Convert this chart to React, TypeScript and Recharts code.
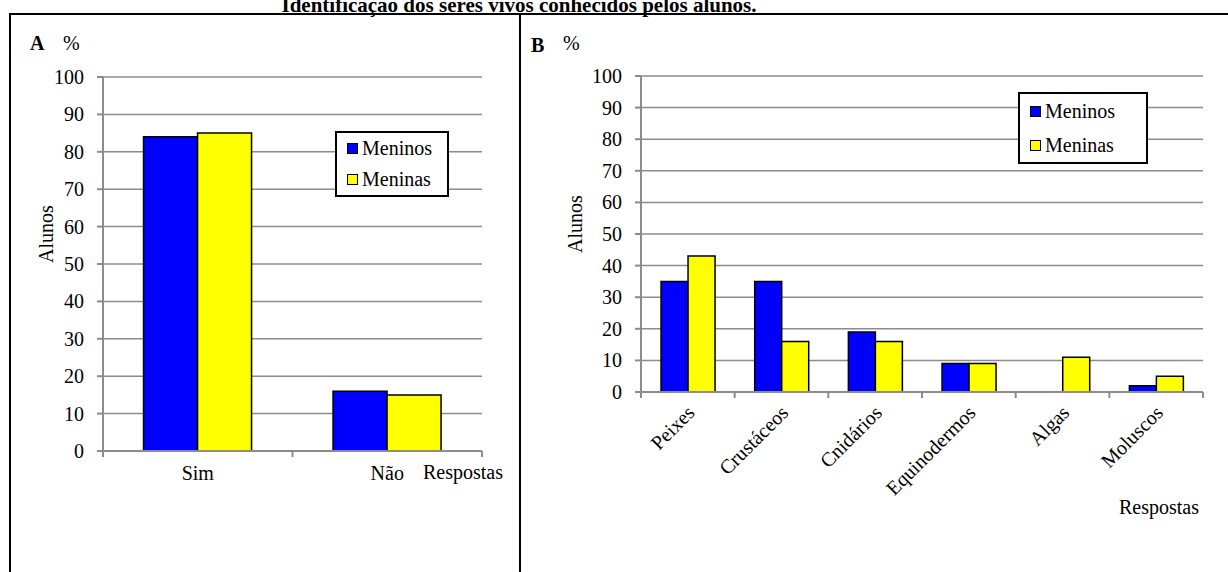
import { BarChart, Bar, XAxis, YAxis, CartesianGrid, Legend } from 'recharts';

const FONT = '"Liberation Serif", "Times New Roman", Times, serif';
const BLUE = '#0000ff';
const YELLOW = '#ffff00';
const GREY = '#8c8c8c';

const series = ['Meninos', 'Meninas'];
const seriesColors: Record<string, string> = { Meninos: BLUE, Meninas: YELLOW };
const yTicks = [0, 10, 20, 30, 40, 50, 60, 70, 80, 90, 100];

// A: conhece seres vivos marinhos?
const respostasA = ['Sim', 'Não'];
const meninosA = [84, 16];
const meninasA = [85, 15];

// B: grupos citados
const gruposB = ['Peixes', 'Crustáceos', 'Cnidários', 'Equinodermos', 'Algas', 'Moluscos'];
const meninosB = [35, 35, 19, 9, 0, 2];
const meninasB = [43, 16, 16, 9, 11, 5];

const dataA = respostasA.map((name, i) => ({ name, Meninos: meninosA[i], Meninas: meninasA[i] }));
const dataB = gruposB.map((name, i) => ({ name, Meninos: meninosB[i], Meninas: meninasB[i] }));

// category ticks: label at the centre, tick marks on the band edges (Excel style)
function CategoryTick(props: any) {
  const { x, y, payload, index, band, count, rotate } = props;
  const half = band / 2;
  const tx = x + 8;
  const ty = y + 22;
  return (
    <g>
      <line x1={x - half} y1={y} x2={x - half} y2={y + 6} stroke={GREY} strokeWidth={2} />
      {index === count - 1 && (
        <line x1={x + half} y1={y} x2={x + half} y2={y + 6} stroke={GREY} strokeWidth={2} />
      )}
      {rotate ? (
        <text x={tx} y={ty} transform={`rotate(-45 ${tx} ${ty})`} textAnchor="end" fontFamily={FONT} fontSize={20} fill="#000" style={{ fontFamily: FONT }}>
          {payload.value}
        </text>
      ) : (
        <text x={x} y={y + 29} textAnchor="middle" fontFamily={FONT} fontSize={20} fill="#000" style={{ fontFamily: FONT }}>
          {payload.value}
        </text>
      )}
    </g>
  );
}

function ValueTick({ x, y, payload }: any) {
  return (
    <text x={x} y={y} dy={7} textAnchor="end" fontFamily={FONT} fontSize={20} fill="#000" style={{ fontFamily: FONT }}>
      {payload.value}
    </text>
  );
}

function BoxLegend({ payload, rowH, padLeft }: any) {
  const items = [...(payload ?? [])].sort((a: any, b: any) => series.indexOf(a.value) - series.indexOf(b.value));
  return (
    <div
      style={{
        border: '2px solid #000',
        background: '#fff',
        boxSizing: 'border-box',
        height: '100%',
        paddingLeft: padLeft,
        fontFamily: FONT,
        fontSize: 20,
        color: '#000',
      }}
    >
      {items.map((item: any) => (
        <div key={item.value} style={{ display: 'flex', alignItems: 'center', height: rowH, lineHeight: `${rowH}px`, fontFamily: FONT }}>
          <span
            style={{
              display: 'inline-block',
              width: 9,
              height: 9,
              background: seriesColors[item.value] ?? item.color,
              border: '1px solid #000',
              marginRight: 4,
            }}
          />
          {item.value}
        </div>
      ))}
    </div>
  );
}

type PanelProps = {
  data: { name: string; Meninos: number; Meninas: number }[];
  width: number;
  height: number;
  margin: { top: number; right: number; bottom: number; left: number };
  rotate?: boolean;
  legend: { left: number; top: number; width: number; height: number; rowH: number; padLeft: number };
};

function Panel({ data, width, height, margin, rotate, legend }: PanelProps) {
  const yAxisW = 60;
  const xAxisH = 40;
  const plotW = width - margin.left - yAxisW - margin.right;
  const band = plotW / data.length;
  return (
    <BarChart
      width={width}
      height={height}
      data={data}
      margin={margin}
      barCategoryGap="21.4%"
      barGap={0}
      style={{ fontFamily: FONT }}
    >
      <CartesianGrid vertical={false} stroke={GREY} strokeWidth={1.5} />
      <XAxis
        dataKey="name"
        height={xAxisH}
        interval={0}
        axisLine={{ stroke: GREY, strokeWidth: 2 }}
        tickLine={false}
        tickSize={0}
        tickMargin={0}
        tick={(p: any) => <CategoryTick {...p} band={band} count={data.length} rotate={rotate} />}
      />
      <XAxis xAxisId="top" orientation="top" dataKey="name" height={0} tick={false} tickLine={false} axisLine={{ stroke: '#000', strokeWidth: 2 }} />
      <YAxis
        width={yAxisW}
        domain={[0, 100]}
        ticks={yTicks}
        interval={0}
        axisLine={{ stroke: GREY, strokeWidth: 2 }}
        tickLine={{ stroke: GREY, strokeWidth: 2 }}
        tickSize={6}
        tickMargin={13}
        tick={(p: any) => <ValueTick {...p} />}
      />
      <YAxis yAxisId="right" orientation="right" width={0} domain={[0, 100]} tick={false} tickLine={false} axisLine={{ stroke: '#000', strokeWidth: 2 }} />
      {series.map((s) => (
        <Bar key={s} dataKey={s} fill={seriesColors[s]} stroke="#000" strokeWidth={1.5} isAnimationActive={false} />
      ))}
      <Legend
        layout="vertical"
        align="center"
        verticalAlign="middle"
        wrapperStyle={{ left: legend.left, top: legend.top, width: legend.width, height: legend.height }}
        content={(p: any) => <BoxLegend {...p} rowH={legend.rowH} padLeft={legend.padLeft} />}
      />
    </BarChart>
  );
}

export default function App() {
  const textStyle = { fontFamily: FONT, fontSize: 20, fill: '#000' };
  return (
    <div style={{ position: 'absolute', left: 0, top: 0, width: 1228, height: 572, background: '#fff', overflow: 'hidden', fontFamily: FONT }}>
      <svg width={1228} height={572} style={{ position: 'absolute', left: 0, top: 0 }}>
        <text x={519} y={12} textAnchor="middle" style={{ ...textStyle, fontSize: 21, fontWeight: 'bold' }}>
          Identificação dos seres vivos conhecidos pelos alunos.
        </text>
        <line x1={9} y1={14} x2={1228} y2={14} stroke="#000" strokeWidth={2} />
        <line x1={10} y1={13} x2={10} y2={572} stroke="#000" strokeWidth={2} />
        <line x1={520} y1={13} x2={520} y2={572} stroke="#000" strokeWidth={2} />

        <text x={30} y={50} style={{ ...textStyle, fontWeight: 'bold' }}>A</text>
        <text x={63} y={50} style={textStyle}>%</text>
        <text x={46} y={234} transform="rotate(-90 46 234)" textAnchor="middle" dominantBaseline="central" style={textStyle}>
          Alunos
        </text>
        <text x={423} y={479} style={textStyle}>Respostas</text>

        <text x={531} y={52} style={{ ...textStyle, fontWeight: 'bold' }}>B</text>
        <text x={563} y={50} style={textStyle}>%</text>
        <text x={575} y={224} transform="rotate(-90 575 224)" textAnchor="middle" dominantBaseline="central" style={textStyle}>
          Alunos
        </text>
        <text x={1119} y={514} style={textStyle}>Respostas</text>
      </svg>

      <div style={{ position: 'absolute', left: 0, top: 0 }}>
        <Panel
          data={dataA}
          width={520}
          height={572}
          margin={{ top: 77, right: 38, bottom: 81, left: 43 }}
          legend={{ left: 335, top: 131, width: 114, height: 66, rowH: 31, padLeft: 10 }}
        />
      </div>
      <div style={{ position: 'absolute', left: 520, top: 0 }}>
        <Panel
          data={dataB}
          width={708}
          height={572}
          margin={{ top: 76, right: 25, bottom: 140, left: 61 }}
          rotate
          legend={{ left: 498, top: 92, width: 130, height: 72, rowH: 34, padLeft: 10 }}
        />
      </div>
    </div>
  );
}
